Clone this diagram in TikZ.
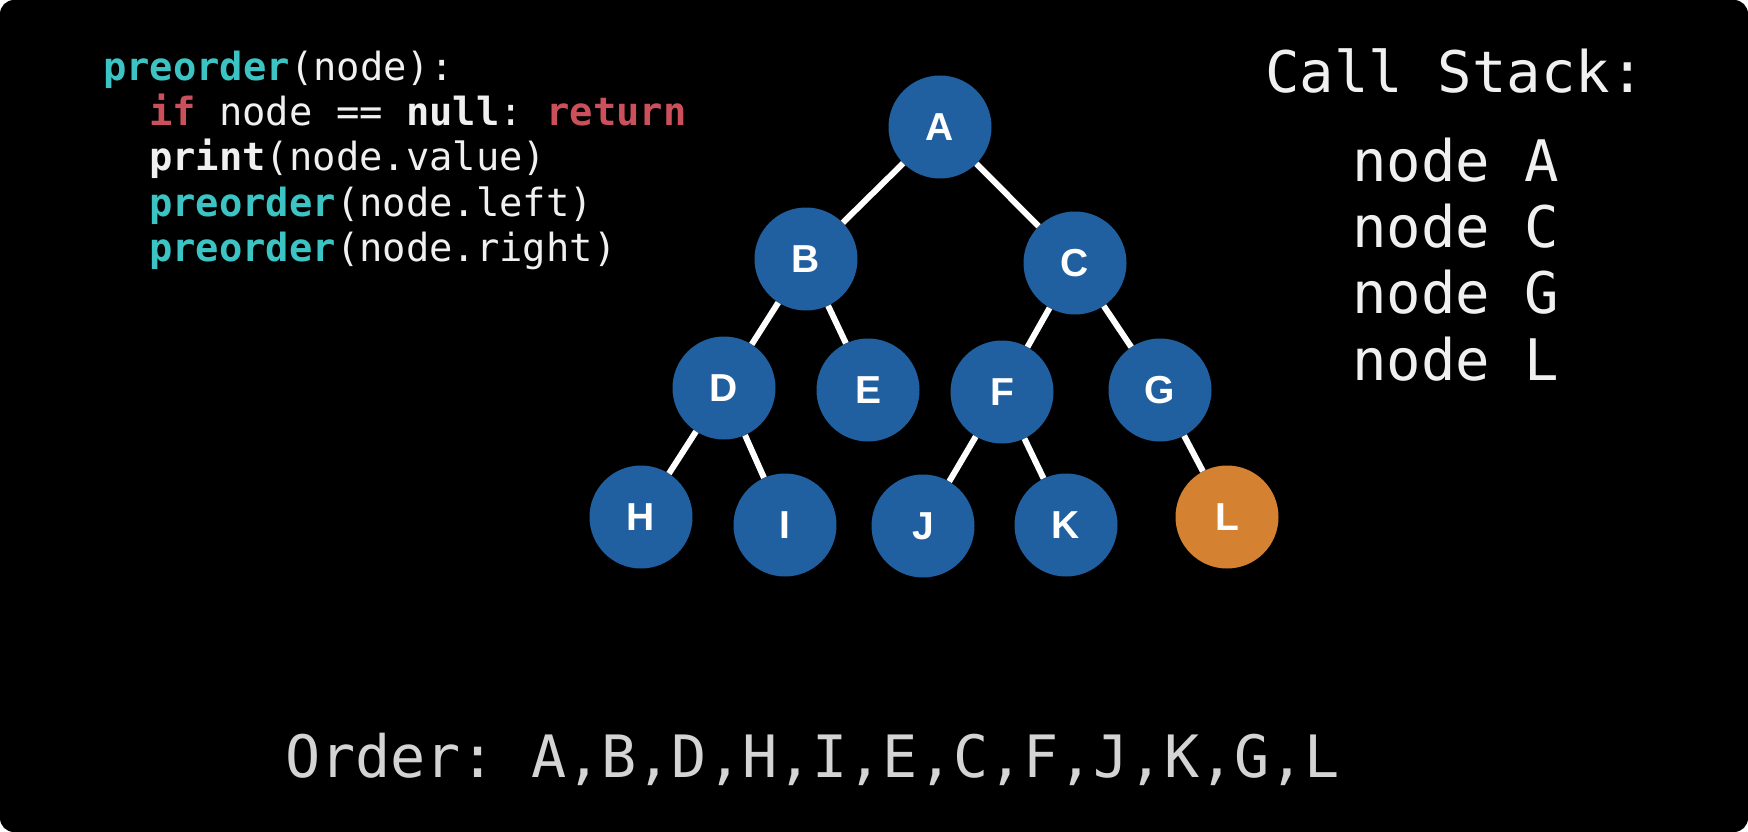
\documentclass[tikz,border=0pt]{standalone}
\usepackage{fontspec}
\setmonofont{DejaVu Sans Mono}
\newfontfamily\letterfont{Liberation Sans}
\definecolor{treeblue}{RGB}{33,96,160}
\definecolor{treeorange}{RGB}{212,130,50}
\definecolor{codeteal}{RGB}{60,196,196}
\definecolor{codered}{RGB}{204,80,92}
\definecolor{codewhite}{RGB}{240,240,240}
\definecolor{ordergray}{RGB}{212,212,212}
\begin{document}
\begin{tikzpicture}[x=1pt,y=-1pt,
  tnode/.style={circle, fill=treeblue, minimum size=103pt, inner sep=0pt, text=white,
    font=\letterfont\bfseries\fontsize{39}{39}\selectfont},
  hnode/.style={tnode, fill=treeorange},
  edge/.style={draw=white, line width=6pt},
  codeline/.style={anchor=base west, inner sep=0pt, text=codewhite,
    font=\ttfamily\fontsize{38.8}{45}\selectfont},
  stackline/.style={anchor=base west, inner sep=0pt, text=codewhite,
    font=\ttfamily\fontsize{57.3}{66}\selectfont},
  orderline/.style={anchor=base west, inner sep=0pt, text=ordergray,
    font=\ttfamily\fontsize{58.4}{66}\selectfont}]
\useasboundingbox (0,0) rectangle (1748,832);
\fill[white] (0,0) rectangle (1748,832);
\fill[black, rounded corners=14pt] (0,0) rectangle (1748,832);

% code
\node[codeline] (c1) at (103,81) {\textcolor{codeteal}{\bfseries preorder}(node):};
\node[codeline] (c2) at (149,126) {\textcolor{codered}{\bfseries if} node == {\bfseries null}: \textcolor{codered}{\bfseries return}};
\node[codeline] (c3) at (149,171) {{\bfseries print}(node.value)};
\node[codeline] (c4) at (149,216) {\textcolor{codeteal}{\bfseries preorder}(node.left)};
\node[codeline] (c5) at (149,261) {\textcolor{codeteal}{\bfseries preorder}(node.right)};

% call stack
\node[stackline] (cs) at (1265,93) {Call Stack:};
\node[stackline] (s1) at (1352,182) {node A};
\node[stackline] (s2) at (1352,247) {node C};
\node[stackline] (s3) at (1352,313) {node G};
\node[stackline] (s4) at (1352,380) {node L};

% order
\node[orderline] (ord) at (285,777) {Order: A,B,D,H,I,E,C,F,J,K,G,L};

% tree
\node[tnode] (A) at (940,127) {A};
\node[tnode] (B) at (806,259) {B};
\node[tnode] (C) at (1075,263) {C};
\node[tnode] (D) at (724,388) {D};
\node[tnode] (E) at (868,390) {E};
\node[tnode] (F) at (1002,392) {F};
\node[tnode] (G) at (1160,390) {G};
\node[tnode] (H) at (641,517) {H};
\node[tnode] (I) at (785,525) {I};
\node[tnode] (J) at (923,526) {J};
\node[tnode] (K) at (1066,525) {K};
\node[hnode] (L) at (1227,517) {L};

\draw[edge] (A) -- (B);
\draw[edge] (A) -- (C);
\draw[edge] (B) -- (D);
\draw[edge] (B) -- (E);
\draw[edge] (C) -- (F);
\draw[edge] (C) -- (G);
\draw[edge] (D) -- (H);
\draw[edge] (D) -- (I);
\draw[edge] (F) -- (J);
\draw[edge] (F) -- (K);
\draw[edge] (G) -- (L);
\end{tikzpicture}
\end{document}
